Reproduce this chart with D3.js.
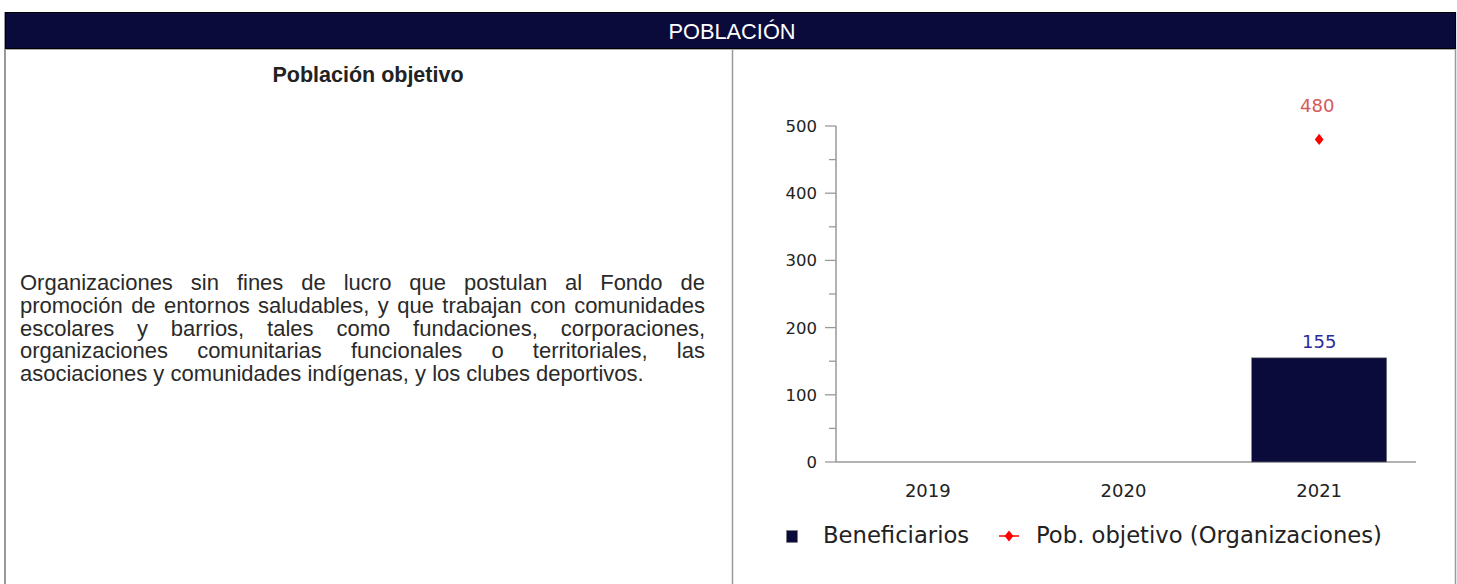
<!DOCTYPE html>
<html>
<head>
<meta charset="utf-8">
<script src="https://cdn.jsdelivr.net/npm/d3@7"></script>
<style>
  body { margin: 0; background: #fff; width: 1457px; height: 584px; overflow: hidden; position: relative; }
  #page { position: absolute; left: 0; top: 0; }
  .para {
    position: absolute; left: 20px; top: 272px; width: 685px;
    font-family: "Liberation Sans", Arial, sans-serif; font-size: 22px; line-height: 22.8px;
    color: #2a2a2a; text-align: justify;
  }
</style>
</head>
<body>
<svg id="page" width="1457" height="584"></svg>
<div class="para">Organizaciones sin fines de lucro que postulan al Fondo de promoción de entornos saludables, y que trabajan con comunidades escolares y barrios, tales como fundaciones, corporaciones, organizaciones comunitarias funcionales o territoriales, las asociaciones y comunidades indígenas, y los clubes deportivos.</div>
<script>
// data
let years = ["2019", "2020", "2021"];
let beneficiarios = [null, null, 155];
let poblacionObjetivo = [null, null, 480];
let yTicks = [0, 100, 200, 300, 400, 500];
let legendLabels = ["Beneficiarios", "Pob. objetivo (Organizaciones)"];

let svg = d3.select('#page');
let navy = '#0b0b3b';
let arial = 'Liberation Sans, Arial, sans-serif';

// marcos de la tabla
svg.append('line').attr('x1', 5).attr('x2', 5).attr('y1', 12).attr('y2', 584)
    .attr('stroke', '#999').attr('stroke-width', 2);
svg.append('line').attr('x1', 1455.5).attr('x2', 1455.5).attr('y1', 12).attr('y2', 584)
    .attr('stroke', '#999').attr('stroke-width', 1.5);
svg.append('line').attr('x1', 732.5).attr('x2', 732.5).attr('y1', 49).attr('y2', 584)
    .attr('stroke', '#999').attr('stroke-width', 1.5);

// cabecera
svg.append('rect').attr('x', 5.5).attr('y', 12.5).attr('width', 1450).attr('height', 36)
    .attr('fill', navy).attr('stroke', '#000').attr('stroke-width', 1);
svg.append('line').attr('x1', 5).attr('x2', 1456).attr('y1', 49.5).attr('y2', 49.5)
    .attr('stroke', '#aaa').attr('stroke-width', 1);
svg.append('text').attr('x', 732).attr('y', 39).attr('text-anchor', 'middle')
    .attr('font-family', arial).attr('font-size', 21.8)
    .attr('fill', '#fff').text('POBLACIÓN');

svg.append('text').attr('x', 368).attr('y', 82).attr('text-anchor', 'middle')
    .attr('font-family', arial).attr('font-size', 21.5)
    .attr('font-weight', 'bold').attr('fill', '#222').text('Población objetivo');

// grafico
let chartFont = 'DejaVu Sans, sans-serif';
let x = d3.scaleBand().domain(years).range([830, 1417]).paddingInner(0.31).paddingOuter(0.155);
let y = d3.scaleLinear().domain([0, 500]).range([462, 126]);

let axisY = svg.append('g').attr('transform', 'translate(836,0)');
axisY.append('line').attr('y1', y(0)).attr('y2', y(500)).attr('stroke', '#999').attr('stroke-width', 1.5);
axisY.selectAll('.major').data(yTicks).join('line')
    .attr('x1', -11).attr('x2', 0).attr('y1', d => y(d)).attr('y2', d => y(d))
    .attr('stroke', '#999').attr('stroke-width', 1.3);
axisY.selectAll('.minor').data(d3.range(50, 500, 100)).join('line')
    .attr('x1', -7).attr('x2', 0).attr('y1', d => y(d)).attr('y2', d => y(d))
    .attr('stroke', '#999').attr('stroke-width', 1.3);
axisY.selectAll('text').data(yTicks).join('text')
    .attr('x', -19).attr('y', d => y(d) + 6).attr('text-anchor', 'end')
    .attr('font-family', chartFont).attr('font-size', 16.5).attr('fill', '#222')
    .text(d => d);

// eje x
let axisX = svg.append('g');
axisX.append('line').attr('x1', 836).attr('x2', 1416).attr('y1', y(0)).attr('y2', y(0))
    .attr('stroke', '#999').attr('stroke-width', 1.5);
axisX.selectAll('text').data(years).join('text')
    .attr('x', d => x(d) + x.bandwidth() / 2).attr('y', 497).attr('text-anchor', 'middle')
    .attr('font-family', chartFont).attr('font-size', 18).attr('fill', '#222')
    .text(d => d);

// barras
let barData = years.map((d, i) => ({year: d, value: beneficiarios[i]})).filter(d => d.value != null);
svg.selectAll('.bar').data(barData).join('rect')
    .attr('x', d => x(d.year)).attr('width', x.bandwidth())
    .attr('y', d => y(d.value)).attr('height', d => y(0) - y(d.value))
    .attr('fill', navy).attr('stroke', '#777').attr('stroke-width', 0.6);
svg.selectAll('.barlabel').data(barData).join('text')
    .attr('x', d => x(d.year) + x.bandwidth() / 2).attr('y', d => y(d.value) - 10)
    .attr('text-anchor', 'middle').attr('font-family', chartFont).attr('font-size', 18)
    .attr('fill', '#2a2a9a').text(d => d.value);

// puntos poblacion objetivo
let diamond = d3.symbol().type(d3.symbolDiamond).size(50);
let ptData = years.map((d, i) => ({year: d, value: poblacionObjetivo[i]})).filter(d => d.value != null);
svg.selectAll('.pt').data(ptData).join('path')
    .attr('d', diamond)
    .attr('transform', d => `translate(${x(d.year) + x.bandwidth() / 2},${y(d.value)}) scale(1.15,0.85)`)
    .attr('fill', '#ff0000');
svg.selectAll('.ptlabel').data(ptData).join('text')
    .attr('x', d => x(d.year) + x.bandwidth() / 2 - 2).attr('y', d => y(d.value) - 27)
    .attr('text-anchor', 'middle').attr('font-family', chartFont).attr('font-size', 18)
    .attr('fill', '#d45a5a').text(d => d.value);

// leyenda
let legend = svg.append('g').attr('font-family', chartFont).attr('font-size', 22.7).attr('fill', '#222');
legend.append('rect').attr('x', 786.5).attr('y', 530.5).attr('width', 11).attr('height', 12)
    .attr('fill', navy).attr('stroke', '#777').attr('stroke-width', 0.5);
legend.append('text').attr('x', 823).attr('y', 543).text(legendLabels[0]);
legend.append('line').attr('x1', 999).attr('x2', 1019).attr('y1', 536).attr('y2', 536)
    .attr('stroke', '#ff0000').attr('stroke-width', 1.5);
legend.append('path').attr('d', diamond).attr('transform', 'translate(1009,536) scale(1.15,0.85)').attr('fill', '#ff0000');
legend.append('text').attr('x', 1036).attr('y', 543).text(legendLabels[1]);
</script>
</body>
</html>
